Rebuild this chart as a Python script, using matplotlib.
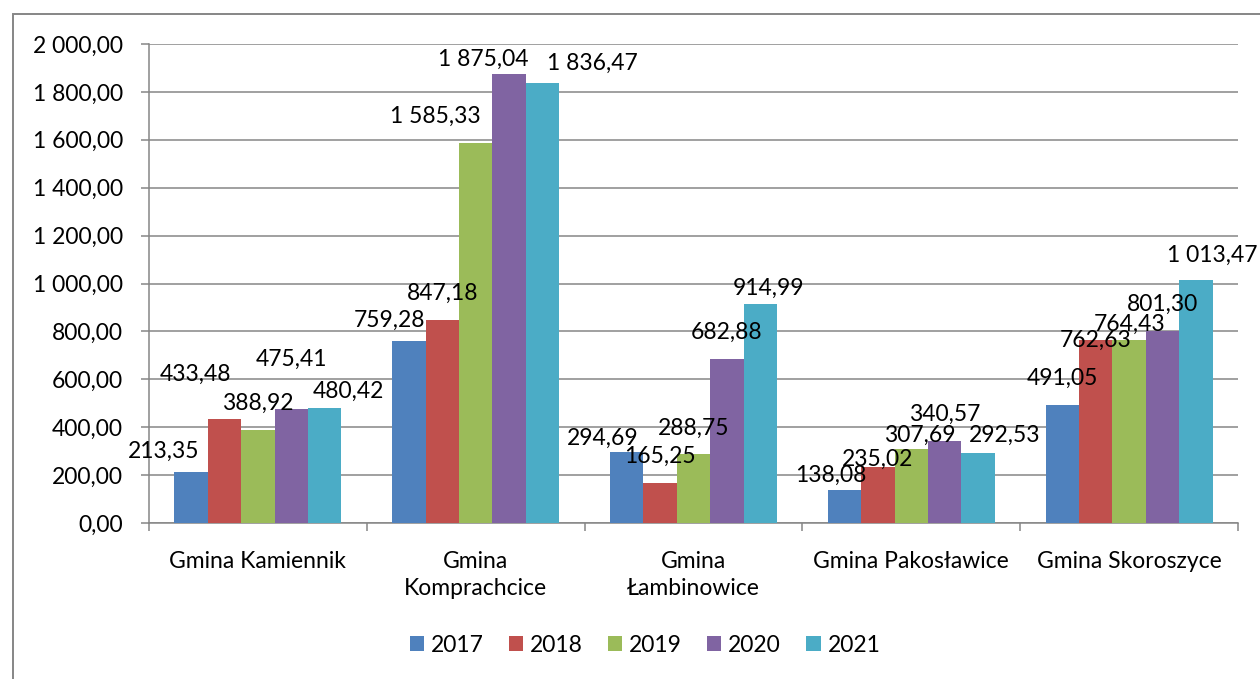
import numpy as np
import matplotlib.pyplot as plt
from matplotlib.patches import Rectangle

plt.rcParams['font.family'] = ['Lato', 'DejaVu Sans']

# data
categories = ["Gmina Kamiennik", "Gmina\nKomprachcice", "Gmina\nŁambinowice",
              "Gmina Pakosławice", "Gmina Skoroszyce"]
years = ["2017", "2018", "2019", "2020", "2021"]
v2017 = [213.35, 759.28, 294.69, 138.08, 491.05]
v2018 = [433.48, 847.18, 165.25, 235.02, 762.63]
v2019 = [388.92, 1585.33, 288.75, 307.69, 764.43]
v2020 = [475.41, 1875.04, 682.88, 340.57, 801.30]
v2021 = [480.42, 1836.47, 914.99, 292.53, 1013.47]
series = [v2017, v2018, v2019, v2020, v2021]

colors = ['#4F81BD', '#C0504D', '#9BBB59', '#8064A2', '#4BACC6']
grey = '#868686'

# where the value labels sit, in pixels from the top middle of each bar
label_shift = [
    [(-27, 21), (-19, 21), (-24, 14), (-14, 15), (0, 27)],
    [(-29, 45), (0, 27), (0, 27), (0, 7), (0, 0)],
    [(0, 27), (-40, 27), (0, 26), (8, 14), (0, 16)],
    [(0, 50), (-26, 15), (0, 27), (0, 27), (0, 27)],
    [(24, 17), (50, 20), (8, 16), (27, 18), (16, 25)],
]


def pl_fmt(v):
    return f"{v:,.2f}".replace(",", " ").replace(".", ",")


W, H = 1260, 679
fig = plt.figure(figsize=(W / 100, H / 100), dpi=100)
ax = fig.add_axes([149 / W, 1 - 523 / H, (1238 - 149) / W, 479 / H])

# outer chart frame (cut off at the right and bottom)
fig.patches.append(Rectangle((13 / W, -0.1), 1.2, 1.1 - 14 / H, transform=fig.transFigure,
                             fill=False, edgecolor=grey, linewidth=1.4))

fs = 16.5
x = np.arange(len(categories))
bw = 0.1534
for i, vals in enumerate(series):
    xs = x + (i - 2) * bw
    ax.bar(xs, vals, width=bw, color=colors[i], label=years[i], zorder=3)
    for j, v in enumerate(vals):
        dx, dy = label_shift[i][j]
        ax.annotate(pl_fmt(v), (xs[j], v), xytext=(dx, dy), textcoords='offset pixels',
                    ha='center', va='center', fontsize=fs, zorder=5)

ax.set_xlim(-0.5, 4.5)
ax.set_ylim(0, 2000)
ax.set_yticks(np.arange(0, 2001, 200))
ax.set_yticklabels([pl_fmt(t) for t in np.arange(0, 2001, 200)], fontsize=fs)
ax.yaxis.grid(True, color=grey, linewidth=1.1)
ax.set_axisbelow(True)
ax.tick_params(axis='y', length=5.8, width=1.1, color=grey, pad=13)

ax.set_xticks(x)
ax.set_xticklabels(categories, fontsize=fs, linespacing=1.35)
ax.set_xticks(np.arange(-0.5, 5, 1), minor=True)
ax.tick_params(axis='x', which='major', length=0, pad=20)
ax.tick_params(axis='x', which='minor', length=5.8, width=1.1, color=grey)

for s in ['top', 'right']:
    ax.spines[s].set_visible(False)
for s in ['left', 'bottom']:
    ax.spines[s].set_color(grey)
    ax.spines[s].set_linewidth(1.1)

fig.legend(loc='center', bbox_to_anchor=(645 / W, 1 - 645 / H), ncol=5, frameon=False,
           fontsize=fs, handlelength=0.62, handleheight=0.62, handletextpad=0.3,
           columnspacing=1.1)

fig.savefig('out.png', dpi=100)
